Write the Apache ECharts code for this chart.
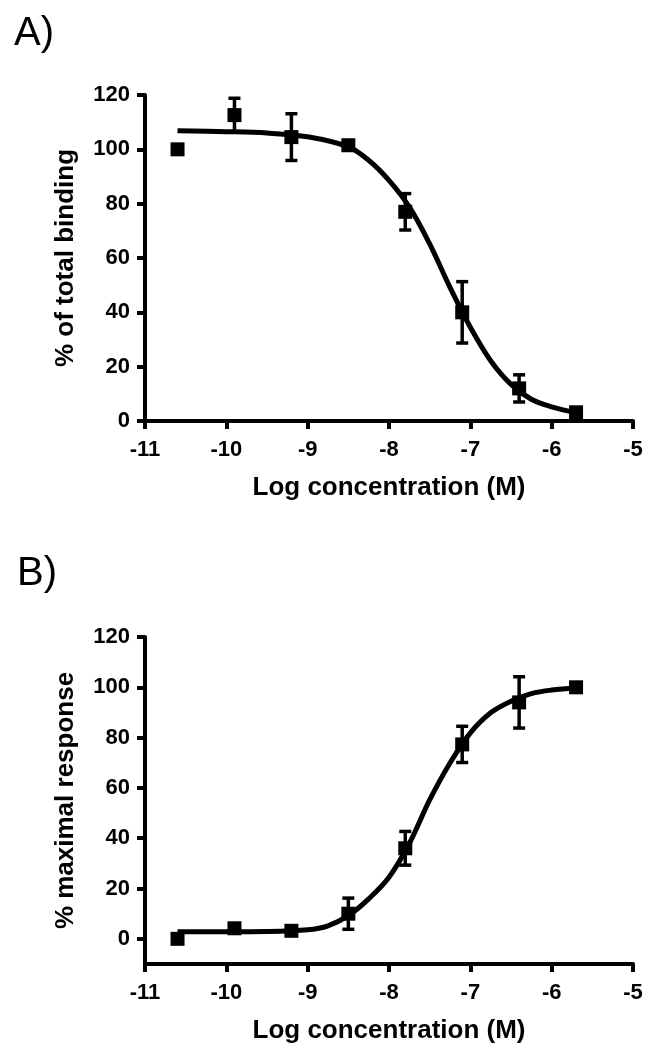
<!DOCTYPE html>
<html>
<head>
<meta charset="utf-8">
<script src="https://cdn.jsdelivr.net/npm/echarts@6/dist/echarts.min.js"></script>
<style>
html,body{margin:0;padding:0;background:#fff;}
#chart{width:659px;height:1050px;}
</style>
</head>
<body>
<div id="chart"></div>
<script>
// ---- data ----
const xTicks = [-11, -10, -9, -8, -7, -6, -5];
const xTickLabels = ['-11', '-10', '-9', '-8', '-7', '-6', '-5'];
const yTicks = [0, 20, 40, 60, 80, 100, 120];
const yTickLabels = ['0', '20', '40', '60', '80', '100', '120'];

const logConc = [-10.6, -9.9, -9.2, -8.5, -7.8, -7.1, -6.4, -5.7];

// Panel A: % of total binding
const bindingMean = [100, 112.6, 104.5, 101.5, 77, 40, 12, 3.2];
const bindingErr  = [0, 6.2, 8.6, 0, 6.7, 11.3, 5, 0];
const bindingFitX = [-10.6, -10, -9.5, -9, -8.5, -8.25, -8, -7.75, -7.5, -7.25, -7, -6.75, -6.5, -6.25, -6, -5.7];
const bindingFitY = [106.8, 106.5, 106, 104.6, 100.9, 96, 88.6, 78.8, 65.2, 49.2, 34.5, 22.2, 13.5, 8, 5.2, 3];

// Panel B: % maximal response
const responseMean = [0, 4.2, 3.2, 10, 36, 77.3, 94, 100];
const responseErr  = [0, 0, 0, 6.2, 6.7, 7.2, 10.2, 0];
const responseFitX = [-10.6, -10, -9.5, -9, -8.75, -8.5, -8.25, -8, -7.75, -7.5, -7.25, -7, -6.75, -6.5, -6.25, -6, -5.7];
const responseFitY = [2.8, 2.8, 2.9, 3.6, 5.2, 9.2, 15.9, 24.5, 37.9, 55.2, 69.9, 81.9, 89.9, 94.5, 97.5, 98.9, 99.7];

const panelLabels = ['A)', 'B)'];
const xTitle = 'Log concentration (M)';
const yTitles = ['% of total binding', '% maximal response'];

// ---- chart ----
const FONT = "'Liberation Sans', Arial, Helvetica, sans-serif";
const zip = (a, b) => a.map((v, i) => [v, b[i]]);
const zip3 = (a, b, c) => a.map((v, i) => [v, b[i], c[i]]);

function xAxisCfg(gridIndex) {
  return {
    type: 'value', gridIndex, min: -11, max: -5, interval: 1,
    name: xTitle, nameLocation: 'middle', nameGap: 54,
    nameTextStyle: { fontFamily: FONT, fontWeight: 'bold', fontSize: 26, color: '#000' },
    axisLine: { onZero: false, lineStyle: { color: '#000', width: 4 } },
    axisTick: { length: 8, lineStyle: { color: '#000', width: 4 } },
    axisLabel: { margin: 18, fontFamily: FONT, fontWeight: 'bold', fontSize: 22, color: '#000',
      formatter: v => xTickLabels[xTicks.indexOf(v)] },
    splitLine: { show: false }
  };
}
function yAxisCfg(gridIndex, min) {
  return {
    type: 'value', gridIndex, min: min, max: 120,
    name: yTitles[gridIndex], nameLocation: 'middle', nameGap: 66, nameRotate: 90,
    nameTextStyle: { fontFamily: FONT, fontWeight: 'bold', fontSize: 26, color: '#000' },
    axisLine: { onZero: false, lineStyle: { color: '#000', width: 4 } },
    axisTick: { length: 8, customValues: yTicks, lineStyle: { color: '#000', width: 4 } },
    axisLabel: { margin: 15, customValues: yTicks, fontFamily: FONT, fontWeight: 'bold', fontSize: 22, color: '#000',
      formatter: v => yTickLabels[yTicks.indexOf(v)] },
    splitLine: { show: false }
  };
}

function errRender(params, api) {
  const x = api.value(0), y = api.value(1), e = api.value(2);
  if (!e) return null;
  const t = api.coord([x, y + e]);
  const b = api.coord([x, y - e]);
  const hw = 6;
  const st = { stroke: '#000', lineWidth: 3.5 };
  return { type: 'group', children: [
    { type: 'line', shape: { x1: t[0], y1: t[1], x2: b[0], y2: b[1] }, style: st },
    { type: 'line', shape: { x1: t[0] - hw, y1: t[1], x2: t[0] + hw, y2: t[1] }, style: st },
    { type: 'line', shape: { x1: b[0] - hw, y1: b[1], x2: b[0] + hw, y2: b[1] }, style: st }
  ]};
}

function panelSeries(idx, fitX, fitY, mean, err) {
  return [
    { type: 'line', xAxisIndex: idx, yAxisIndex: idx, data: zip(fitX, fitY), smooth: 0.35,
      showSymbol: false, lineStyle: { color: '#000', width: 5 }, z: 2, silent: true },
    { type: 'custom', xAxisIndex: idx, yAxisIndex: idx, data: zip3(logConc, mean, err),
      renderItem: errRender, z: 3, silent: true },
    { type: 'scatter', xAxisIndex: idx, yAxisIndex: idx, data: zip(logConc, mean),
      symbol: 'rect', symbolSize: 14, itemStyle: { color: '#000', opacity: 1 }, z: 4, silent: true }
  ];
}

const chart = echarts.init(document.getElementById('chart'), null, { renderer: 'canvas' });
chart.setOption({
  animation: false,
  backgroundColor: '#fff',
  grid: [
    { left: 145, right: 26, top: 95, height: 326 },
    { left: 145, right: 26, top: 637, height: 327 }
  ],
  xAxis: [xAxisCfg(0), xAxisCfg(1)],
  yAxis: [yAxisCfg(0, 0), yAxisCfg(1, -10)],
  graphic: [
    { type: 'text', left: 14, top: 14, style: { text: panelLabels[0], font: 'normal 40px ' + FONT, fill: '#000' } },
    { type: 'text', left: 17, top: 554, style: { text: panelLabels[1], font: 'normal 40px ' + FONT, fill: '#000' } }
  ],
  series: [
    ...panelSeries(0, bindingFitX, bindingFitY, bindingMean, bindingErr),
    ...panelSeries(1, responseFitX, responseFitY, responseMean, responseErr)
  ]
});
</script>
</body>
</html>
